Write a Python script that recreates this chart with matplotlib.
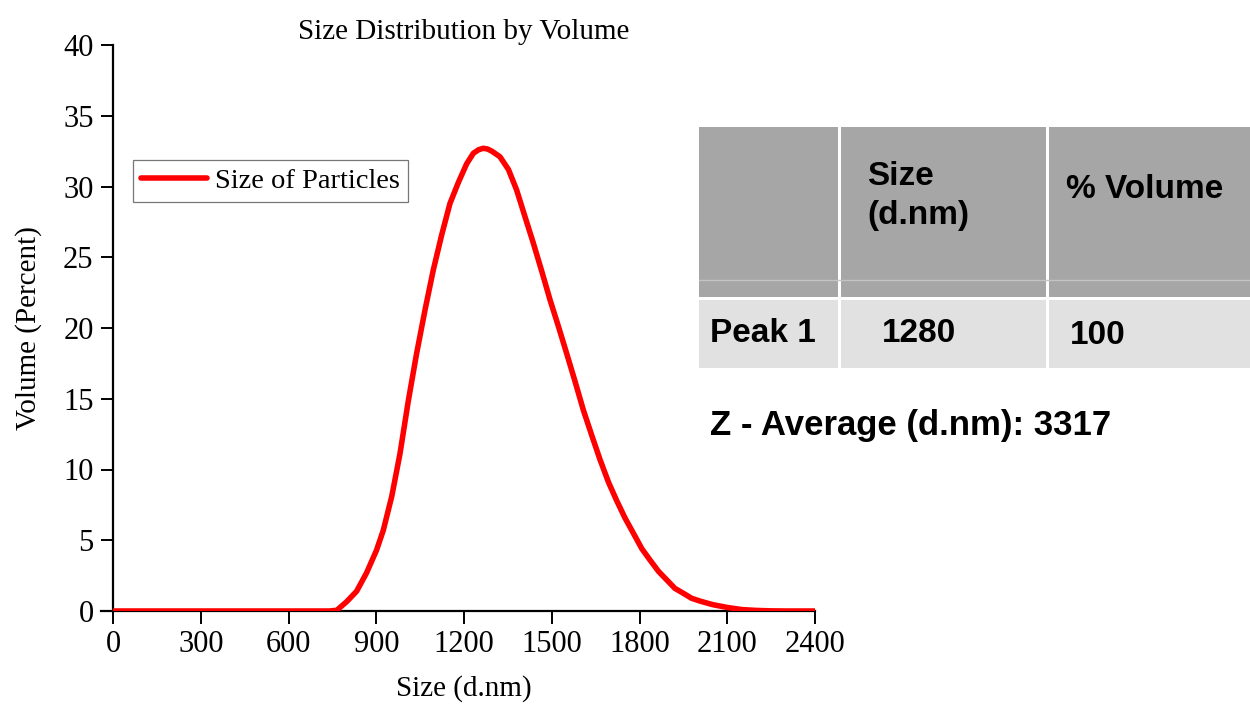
"""Size distribution by volume with peak summary table."""

import matplotlib
matplotlib.use("Agg")
import matplotlib.pyplot as plt
from matplotlib.patches import Rectangle

# --- data ------------------------------------------------------------------
size_nm = [0, 200, 400, 600, 700, 740, 765, 799, 833, 867, 901, 924, 953,
           981, 1010, 1038, 1067, 1095, 1124, 1152, 1181, 1209, 1232, 1250,
           1266, 1280, 1295, 1323, 1352, 1380, 1408, 1437, 1466, 1494, 1523,
           1551, 1580, 1608, 1637, 1665, 1694, 1722, 1751, 1779, 1808, 1836,
           1865, 1893, 1921, 1950, 1978, 2007, 2050, 2100, 2150, 2200, 2250,
           2300, 2400]
volume_pct = [0, 0, 0, 0, 0, 0, 0.05, 0.66, 1.4, 2.7, 4.3, 5.7, 8.1,
              11.1, 14.9, 18.2, 21.3, 24.1, 26.6, 28.8, 30.3, 31.6, 32.35,
              32.6, 32.7, 32.65, 32.5, 32.1, 31.2, 29.75, 27.9, 26.0, 24.0,
              22.0, 20.1, 18.2, 16.2, 14.2, 12.4, 10.7, 9.1, 7.8, 6.55, 5.5,
              4.4, 3.6, 2.8, 2.2, 1.6, 1.25, 0.9, 0.7, 0.45, 0.25, 0.1, 0.04,
              0.01, 0, 0]

x_ticks = [0, 300, 600, 900, 1200, 1500, 1800, 2100, 2400]
y_ticks = [0, 5, 10, 15, 20, 25, 30, 35, 40]

table_header = ["", "Size\n(d.nm)", "% Volume"]
table_row = ["Peak 1", "1280", "100"]
z_average = 3317

SERIF = ["Liberation Serif", "DejaVu Serif"]
SANS = ["Liberation Sans", "DejaVu Sans"]
HEADER_GRAY = "#a6a6a6"
ROW_GRAY = "#e1e1e1"

W, H = 1250, 705
fig = plt.figure(figsize=(W / 100, H / 100), dpi=100)
fig.patch.set_facecolor("white")


def px(x0, y0, x1, y1):
    """Figure rect from pixel box (top-left origin)."""
    return [x0 / W, 1 - y1 / H, (x1 - x0) / W, (y1 - y0) / H]


# --- main plot --------------------------------------------------------------
ax = fig.add_axes(px(113, 45, 815, 611))
ax.plot(size_nm, volume_pct, color="#ff0000", linewidth=4.0,
        solid_joinstyle="round", solid_capstyle="round",
        label="Size of Particles", zorder=3)
ax.set_xlim(0, 2400)
ax.set_ylim(0, 40)
ax.set_xticks(x_ticks)
ax.set_yticks(y_ticks)
for spine in ("top", "right"):
    ax.spines[spine].set_visible(False)
for spine in ("left", "bottom"):
    ax.spines[spine].set_linewidth(1.6)
ax.spines["bottom"].set_bounds(-40, 2400)
ax.spines["bottom"].set_clip_on(False)
ax.tick_params(direction="out", length=9, width=1.4, labelsize=22, pad=5)
for lab in ax.get_xticklabels() + ax.get_yticklabels():
    lab.set_family(SERIF)
ax.set_xlabel("Size (d.nm)", fontsize=21, family=SERIF, labelpad=11)
ax.set_ylabel("Volume (Percent)", fontsize=21, family=SERIF, labelpad=15)
ax.set_title("Size Distribution by Volume", fontsize=21, family=SERIF, pad=1)

leg = ax.legend(loc="upper left", bbox_to_anchor=(0.029, 0.797),
                prop={"family": SERIF, "size": 20.5}, frameon=True,
                fancybox=False, handlelength=2.3, handletextpad=0.3,
                borderpad=0.28, borderaxespad=0)
leg.get_frame().set_edgecolor("#555555")
leg.get_frame().set_linewidth(0.9)

# --- summary table ----------------------------------------------------------
tab = fig.add_axes(px(699, 127, 1250, 368))
tab.set_xlim(699, 1250)
tab.set_ylim(368, 127)
tab.axis("off")

col_edges = [(699, 838), (841, 1046), (1049, 1250)]
for x0, x1 in col_edges:
    tab.add_patch(Rectangle((x0, 127), x1 - x0, 170, facecolor=HEADER_GRAY,
                            edgecolor="none"))
    tab.add_patch(Rectangle((x0, 300), x1 - x0, 68, facecolor=ROW_GRAY,
                            edgecolor="none"))
tab.plot([699, 1250], [280, 280], color="#c4c4c4", linewidth=1)

text_kw = dict(family=SANS, fontsize=24, fontweight="bold", color="black")
header_pos = [None, (867, 196), (1066, 189)]
for label, pos in zip(table_header, header_pos):
    if pos and label:
        tab.text(pos[0], pos[1], label, ha="left", va="center",
                 linespacing=1.32, **text_kw)
row_pos = [(710, 333), (882, 334), (1070, 336)]
for label, pos in zip(table_row, row_pos):
    tab.text(pos[0], pos[1], label, ha="left", va="center", **text_kw)

fig.text(710 / W, 1 - 425 / H, f"Z - Average (d.nm): {z_average}",
         ha="left", va="center", family=SANS, fontsize=25,
         fontweight="bold")

fig.savefig("out.png", dpi=100, facecolor="white")
